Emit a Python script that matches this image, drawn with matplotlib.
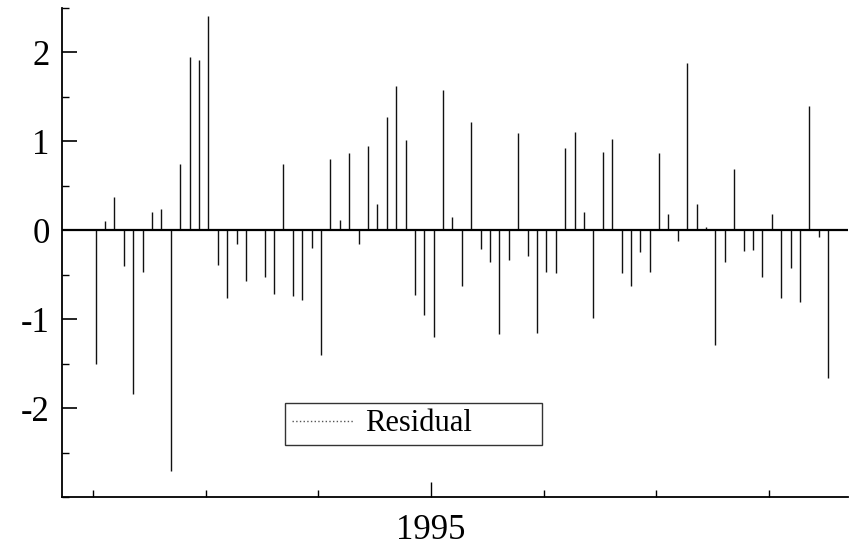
import matplotlib
matplotlib.use('Agg')
from matplotlib import pyplot as plt
import numpy as np

# monthly residuals
residual = [-1.50, 0.10, 0.37, -0.40, -1.84, -0.47, 0.20, 0.24, -2.71, 0.75,
            1.95, 1.92, 2.41, -0.39, -0.76, -0.16, -0.57, 0.00, -0.52, -0.72,
            0.75, -0.74, -0.78, -0.20, -1.40, 0.80, 0.12, 0.87, -0.16, 0.95,
            0.29, 1.27, 1.62, 1.01, -0.73, -0.95, -1.20, 1.58, 0.15, -0.63,
            1.22, -0.21, -0.36, -1.17, -0.33, 1.09, -0.29, -1.15, -0.47, -0.48,
            0.93, 1.10, 0.21, -0.99, 0.88, 1.03, -0.48, -0.63, -0.25, -0.47,
            0.87, 0.18, -0.12, 1.88, 0.30, 0.04, -1.29, -0.36, 0.69, -0.23,
            -0.22, -0.52, 0.18, -0.76, -0.43, -0.81, 1.40, -0.08, -1.66]
year_ticks = [0, 12, 24, 48, 60, 72]
label_tick = 36
label_text = '1995'
y_major = [-2, -1, 0, 1, 2]

plt.rcParams['font.family'] = ['Liberation Serif', 'DejaVu Serif']
plt.rcParams['axes.unicode_minus'] = False

months = np.arange(len(residual)) + 0.28

fig = plt.figure(figsize=(8.51, 5.47), dpi=100)
ax = fig.add_axes([0.0729, 0.0914, 0.9236, 0.894])

ax.vlines(months, 0, residual, color='#111111', linewidth=1.0,
          label='Residual', linestyle='-')
ax.axhline(0, color='black', linewidth=1.6)

ax.set_xlim(-3.3, 80.4)
ax.set_ylim(-3.0, 2.5)

for side in ['top', 'right']:
    ax.spines[side].set_visible(False)
for side in ['left', 'bottom']:
    ax.spines[side].set_linewidth(1.3)

ax.set_yticks(y_major)
ax.set_yticklabels([str(v) for v in y_major])
ax.set_yticks(np.arange(-3.0, 2.51, 0.5), minor=True)
ax.tick_params(axis='y', which='major', direction='in', length=11,
               width=1.2, labelsize=25, pad=9)
ax.tick_params(axis='y', which='minor', direction='in', length=5, width=1.0)

ax.set_xticks([label_tick])
ax.set_xticklabels([label_text])
ax.set_xticks(year_ticks, minor=True)
ax.tick_params(axis='x', which='major', direction='in', length=11,
               width=1.0, labelsize=25, pad=12)
ax.tick_params(axis='x', which='minor', direction='in', length=5, width=1.0)

# legend with a thin dotted sample line
handle = plt.Line2D([], [], color='#555555', linewidth=1.0, linestyle=':')
leg = ax.legend([handle], ['Residual'], loc='lower left',
                bbox_to_anchor=(0.284, 0.106, 0.327, 0.088), mode='expand',
                fontsize=22, frameon=True, fancybox=False, handlelength=2.0,
                handletextpad=0.4, borderpad=0.22, borderaxespad=0)
leg.get_frame().set_edgecolor('black')
leg.get_frame().set_linewidth(1.0)

plt.savefig('out.png', dpi=100)
